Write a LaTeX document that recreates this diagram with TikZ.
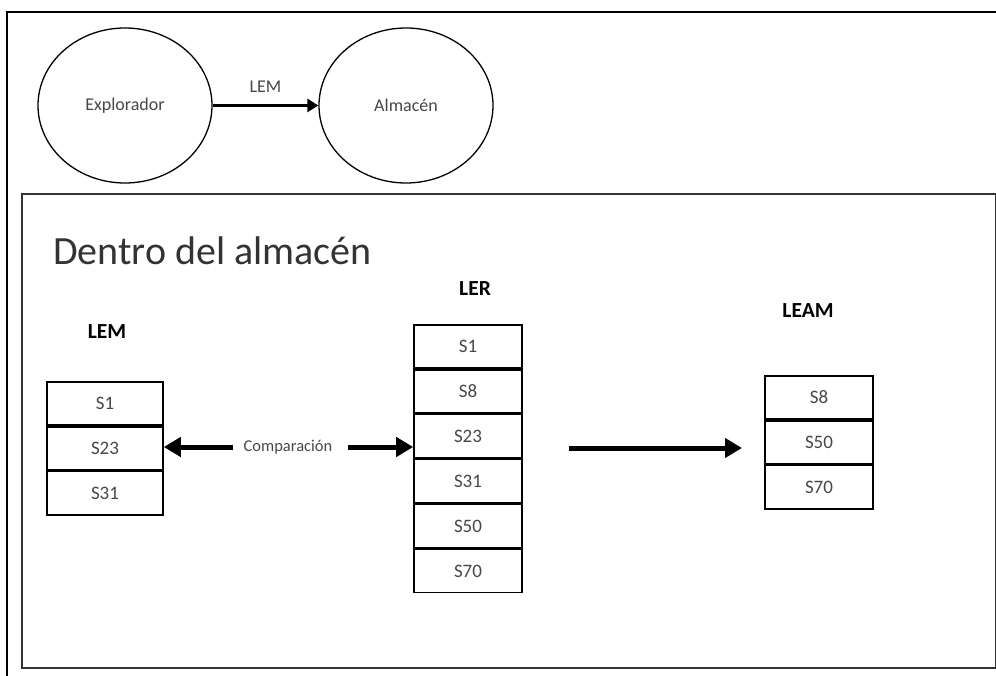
\documentclass[tikz,border=0pt]{standalone}
\usepackage{fontspec}
\setmainfont{Carlito}
\usetikzlibrary{shapes.geometric,arrows.meta,positioning,calc}

\begin{document}
\begin{tikzpicture}[x=1pt,y=-1pt,
  oval/.style={draw, ellipse, line width=1.3pt, minimum width=174pt, minimum height=155pt,
    inner sep=0pt, font=\fontsize{18}{20}\selectfont, text=black!72},
  cell/.style={draw, line width=1.6pt, minimum height=43.3pt, inner sep=0pt,
    font=\fontsize{19}{21}\selectfont, text=black!72},
  lemcell/.style={cell, minimum width=116pt},
  lercell/.style={cell, minimum width=108pt},
  listname/.style={font=\fontsize{21.5}{23}\selectfont\bfseries, text=black, inner sep=0pt},
  smalltext/.style={font=\fontsize{16.5}{18}\selectfont, text=black!72, inner sep=0pt},
  thinarrow/.style={line width=3pt, -{Triangle[length=11pt,width=13pt]}},
  fatarrow/.style={line width=5pt, -{Triangle[length=17pt,width=19pt]}},
]
\useasboundingbox (0,0) rectangle (996,676);

% outer frame (open to the right and below)
\coordinate (otr) at (996,12);
\coordinate (otl) at (7,12);
\coordinate (obl) at (7,676);
\draw[line width=2pt] (otr) -- (otl) -- (obl);

% inner frame
\node[draw=black!80, line width=2pt, minimum width=974pt, minimum height=474pt,
  anchor=north west, inner sep=0pt] (inside) at (21,193) {};

% top: explorer sends its list to the store
\node[oval] (expl) at (125,105.5) {Explorador};
\node[oval] (alm) at (406,105.5) {Almacén};
\draw[thinarrow] (expl.east) -- (alm.west)
  node[midway, above=11pt, smalltext, font=\fontsize{18}{20}\selectfont] {LEM};

% title
\node[anchor=base west, inner sep=0pt, font=\fontsize{40}{44}\selectfont, text=black!80]
  (title) at (53,265) {Dentro del almacén};

% LEM list
\node[listname] (lemname) at (107,332) {LEM};
\node[lemcell, anchor=north] (lem1) at (105,381) {S1};
\node[lemcell, below=0pt of lem1] (lem23) {S23};
\node[lemcell, below=0pt of lem23] (lem31) {S31};

% LER list
\node[listname] (lername) at (475,289) {LER};
\node[lercell, anchor=north] (ler1) at (468,324) {S1};
\node[lercell, below=0pt of ler1] (ler8) {S8};
\node[lercell, below=0pt of ler8] (ler23) {S23};
\node[lercell, below=0pt of ler23] (ler31) {S31};
\node[lercell, below=0pt of ler31] (ler50) {S50};
\node[lercell, below=0pt of ler50] (ler70) {S70};

% LEAM list
\node[listname] (leamname) at (808,311) {LEAM};
\node[lercell, anchor=north] (leam8) at (819,375) {S8};
\node[lercell, below=0pt of leam8] (leam50) {S50};
\node[lercell, below=0pt of leam50] (leam70) {S70};

% comparison arrows
\node[smalltext] (comp) at (288,447) {Comparación};
\draw[fatarrow, shorten <=10pt] (comp.west) -- (comp.west -| lem23.east);
\draw[fatarrow, shorten <=15pt] (comp.east) -- (comp.east -| ler23.west);

% result arrow
\coordinate (resA) at (569,448);
\coordinate (resB) at (742,448);
\draw[fatarrow] (resA) -- (resB);
\end{tikzpicture}
\end{document}
